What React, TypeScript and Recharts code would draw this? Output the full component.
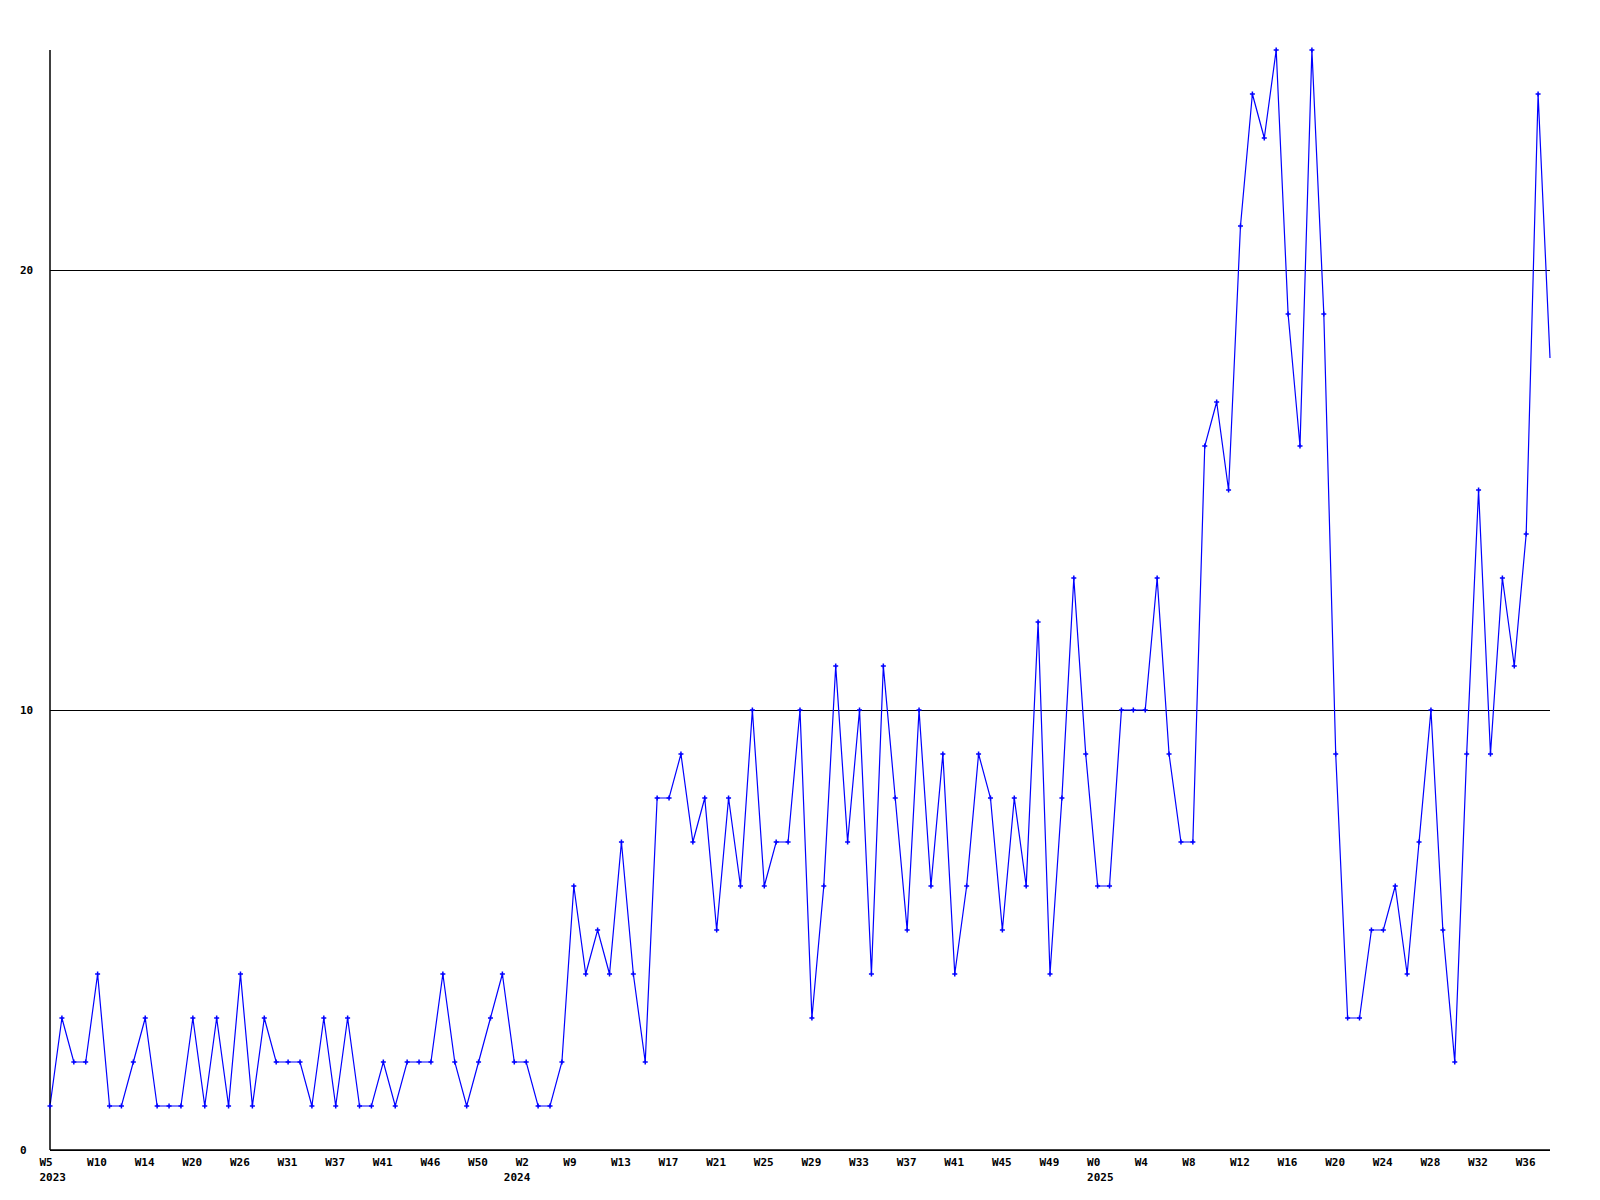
import { LineChart, Line, XAxis, YAxis, CartesianGrid } from 'recharts'

// weekly counts, one point per sample (last sample is partial, drawn without marker)
const values = [
    1, 3, 2, 2, 4, 1, 1, 2, 3, 1, 1, 1, 3, 1, 3, 1, 4, 1, 3, 2,
    2, 2, 1, 3, 1, 3, 1, 1, 2, 1, 2, 2, 2, 4, 2, 1, 2, 3, 4, 2,
    2, 1, 1, 2, 6, 4, 5, 4, 7, 4, 2, 8, 8, 9, 7, 8, 5, 8, 6, 10,
    6, 7, 7, 10, 3, 6, 11, 7, 10, 4, 11, 8, 5, 10, 6, 9, 4, 6, 9, 8,
    5, 8, 6, 12, 4, 8, 13, 9, 6, 6, 10, 10, 10, 13, 9, 7, 7, 16, 17, 15,
    21, 24, 23, 25, 19, 16, 25, 19, 9, 3, 3, 5, 5, 6, 4, 7, 10, 5, 2, 9,
    15, 9, 13, 11, 14, 24, 18,
]

// week labels, one for every 4th sample
const weekLabels = [
    'W5', 'W10', 'W14', 'W20', 'W26', 'W31', 'W37', 'W41', 'W46', 'W50', 'W2',
    'W9', 'W13', 'W17', 'W21', 'W25', 'W29', 'W33', 'W37', 'W41', 'W45', 'W49',
    'W0', 'W4', 'W8', 'W12', 'W16', 'W20', 'W24', 'W28', 'W32', 'W36',
]
const weekStep = 4

// year labels and the sample they sit under
const yearIndex = [0, 39, 88]
const yearNames = ['2023', '2024', '2025']

const yTicks = [0, 10, 20]

const data = values.map((v, i) => ({ i, v }))
const weekTicks = weekLabels.map((_, k) => k * weekStep)
const xTicks = [...new Set([...weekTicks, ...yearIndex])].sort((a, b) => a - b)

const font = { fontFamily: '"DejaVu Sans Mono", monospace', fontWeight: 'bold' as const, fontSize: 11 }

function XTick(props: any) {
    const { x, y, payload } = props
    const idx = payload.value
    const wk = idx % weekStep === 0 ? weekLabels[idx / weekStep] : null
    const yr = yearIndex.indexOf(idx)
    return (
        <g>
            {wk && (
                <text x={x - 10.5} y={y + 12} dominantBaseline="central" textAnchor="start" fill="#000" {...font}>
                    {wk}
                </text>
            )}
            {yr >= 0 && (
                <text x={x - 10.5} y={y + 27} dominantBaseline="central" textAnchor="start" fill="#000" {...font}>
                    {yearNames[yr]}
                </text>
            )}
        </g>
    )
}

function YTick(props: any) {
    const { y, payload } = props
    return (
        <text x={20} y={y} dominantBaseline="central" textAnchor="start" fill="#000" {...font}>
            {payload.value}
        </text>
    )
}

function PlusDot(props: any) {
    const { cx, cy, index } = props
    if (index === values.length - 1 || cx == null || cy == null) return <g key={index} />
    return (
        <path
            key={index}
            d={`M${cx - 2.5},${cy}H${cx + 2.5}M${cx},${cy - 2.5}V${cy + 2.5}`}
            stroke="#0000ff"
            strokeWidth={1.5}
            fill="none"
        />
    )
}

export default function App() {
    return (
        <div style={{ width: 1600, height: 1200, background: '#fff' }}>
            <style>{'body{margin:0}'}</style>
            <LineChart width={1600} height={1200} data={data} margin={{ top: 50, right: 50, bottom: 0, left: 0 }}>
                <CartesianGrid
                    vertical={false}
                    horizontalValues={yTicks}
                    stroke="#000"
                    strokeWidth={1}
                    shapeRendering="crispEdges"
                />
                <XAxis
                    dataKey="i"
                    type="number"
                    domain={[0, values.length - 1]}
                    ticks={xTicks}
                    interval={0}
                    height={50}
                    tickLine={false}
                    tickSize={0}
                    tickMargin={0}
                    axisLine={{ stroke: '#000', strokeWidth: 1.5 }}
                    tick={<XTick />}
                />
                <YAxis
                    type="number"
                    domain={[0, 25]}
                    ticks={yTicks}
                    width={50}
                    tickLine={false}
                    tickSize={0}
                    tickMargin={0}
                    axisLine={{ stroke: '#000', strokeWidth: 1.5 }}
                    tick={<YTick />}
                />
                <Line
                    type="linear"
                    dataKey="v"
                    stroke="#0000ff"
                    strokeWidth={1.2}
                    dot={<PlusDot />}
                    activeDot={false}
                    isAnimationActive={false}
                />
            </LineChart>
        </div>
    )
}
